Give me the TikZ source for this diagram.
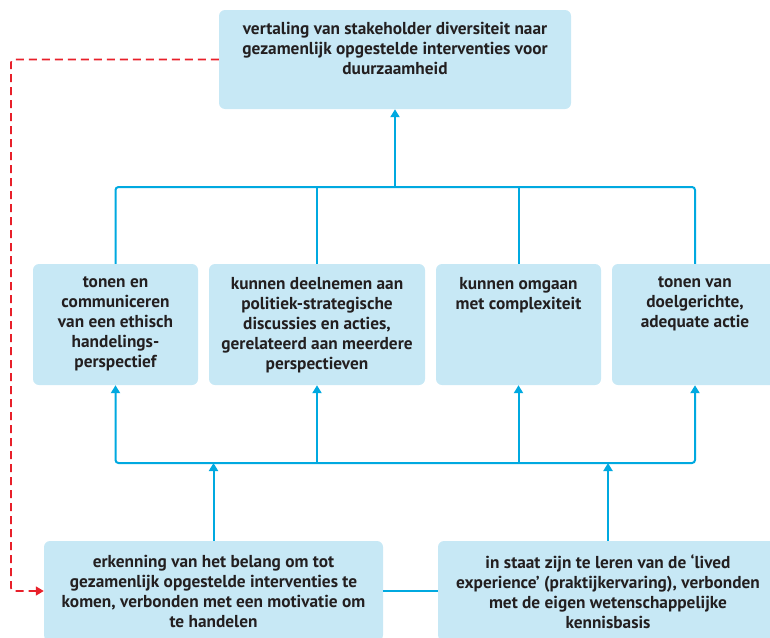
\documentclass[tikz,border=0pt]{standalone}
\usepackage{fontspec}
\setmainfont{PT Sans}
\usetikzlibrary{arrows.meta,calc}
\definecolor{boxfill}{HTML}{C7E8F5}
\definecolor{linecol}{HTML}{00A9E0}
\definecolor{redcol}{HTML}{E8202A}
\definecolor{txtcol}{HTML}{231F20}
\begin{document}
\begin{tikzpicture}[x=1pt,y=-1pt,
  box/.style={fill=boxfill, draw=none, rounded corners=6pt, inner sep=0pt},
  txt/.style={anchor=north, inner sep=0pt, align=center, text=txtcol,
    font=\bfseries\fontsize{17.3}{20}\selectfont},
  link/.style={draw=linecol, line width=2pt, rounded corners=3pt},
  tip/.style={-{Triangle[width=9pt,length=8pt]}},
  dashlink/.style={draw=redcol, line width=1.6pt, dash pattern=on 8pt off 5pt, rounded corners=3pt}
]
\useasboundingbox (0,0) rectangle (770,637);
\clip (0,0) rectangle (770,637);
% boxes
\node[box, minimum width=352pt, minimum height=99pt] (top) at (395,59.5) {};
\node[txt] (topt) at ($(top.north)+(0,12.5)$) {vertaling van stakeholder diversiteit naar\\gezamenlijk opgestelde interventies voor\\duurzaamheid};
\node[box, minimum width=165pt, minimum height=121pt] (m1) at (115.5,324.5) {};
\node[box, minimum width=216pt, minimum height=121pt] (m2) at (317,324.5) {};
\node[box, minimum width=165pt, minimum height=121pt] (m3) at (518.5,324.5) {};
\node[box, minimum width=166pt, minimum height=121pt] (m4) at (695,324.5) {};
\node[txt] (m1t) at ($(m1.north)+(0,13)$) {tonen en\\communiceren\\van een ethisch\\handelings-\\perspectief};
\node[txt] (m2t) at ($(m2.north)+(0,13)$) {kunnen deelnemen aan\\politiek-strategische\\discussies en acties,\\gerelateerd aan meerdere\\perspectieven};
\node[txt] (m3t) at ($(m3.north)+(0,13)$) {kunnen omgaan\\met complexiteit};
\node[txt] (m4t) at ($(m4.north)+(0,13)$) {tonen van\\doelgerichte,\\adequate actie};
\node[box, minimum width=339pt, minimum height=100pt] (b1) at (213.5,591) {};
\node[box, minimum width=340pt, minimum height=100pt] (b2) at (608,591) {};
\node[txt] (b1t) at ($(b1.north)+(0,14)$) {erkenning van het belang om tot\\gezamenlijk opgestelde interventies te\\komen, verbonden met een motivatie om\\te handelen};
\node[txt] (b2t) at ($(b2.north)+(0,14)$) {in staat zijn te leren van de ‘lived\\experience’ (praktijkervaring), verbonden\\met de eigen wetenschappelijke\\kennisbasis};
% bus coordinates
\coordinate (tb) at (0,187);
\coordinate (lb) at (0,463);
\coordinate (rd) at (11,0);
% top bus
\draw[link] (m1.north) -- (m1.north |- tb) -- (m4.north |- tb) -- (m4.north);
\draw[link] (m2.north) -- (m2.north |- tb);
\draw[link] (m3.north) -- (m3.north |- tb);
\draw[link, tip] (top.south |- tb) -- (top.south);
% lower bus
\draw[link, {Triangle[width=9pt,length=8pt]}-{Triangle[width=9pt,length=8pt]}] (m1.south) -- (m1.south |- lb) -- (m4.south |- lb) -- (m4.south);
\draw[link, tip] (m2.south |- lb) -- (m2.south);
\draw[link, tip] (m3.south |- lb) -- (m3.south);
\draw[link, tip] (b1.north) -- (b1.north |- lb);
\draw[link, tip] (b2.north) -- (b2.north |- lb);
\draw[link] (b1.east) -- (b2.west);
% red dashed feedback
\draw[dashlink, -{Triangle[width=9pt,length=8pt]}] (top.west) -| (rd |- b1.west) -- (b1.west);
\end{tikzpicture}
\end{document}
